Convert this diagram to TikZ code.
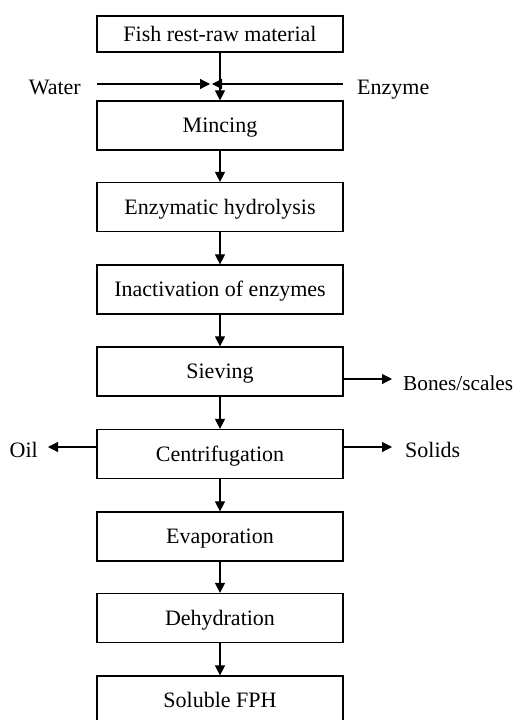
\documentclass[tikz,border=0pt]{standalone}
\usepackage{fontspec}
\setmainfont{Liberation Serif}
\usetikzlibrary{arrows.meta}
\begin{document}
\begin{tikzpicture}[x=1pt,y=-1pt,
  stepbox/.style={draw,line width=1.2pt,minimum width=246pt,minimum height=49pt,inner sep=0pt,
    font=\fontsize{22}{26}\selectfont,text height=14.5pt,text depth=0pt},
  lbl/.style={inner sep=0pt,font=\fontsize{22}{26}\selectfont,text height=14.5pt,text depth=0pt},
  arr/.style={line width=1.1pt,-{Triangle[length=10pt,width=10pt]}},
  ln/.style={line width=1.1pt}]
\useasboundingbox (0,0) rectangle (518,720);
\node[stepbox,minimum height=36pt] (fish) at (220,34) {Fish rest-raw material};
\node[stepbox] (minc) at (220,125.5) {Mincing};
\node[stepbox] (enz) at (220,207) {Enzymatic hydrolysis};
\node[stepbox] (inact) at (220,289.5) {Inactivation of enzymes};
\node[stepbox] (siev) at (220,371.5) {Sieving};
\node[stepbox] (cent) at (220,454) {Centrifugation};
\node[stepbox] (evap) at (220,536.5) {Evaporation};
\node[stepbox] (dehy) at (220,618) {Dehydration};
\node[stepbox] (sol) at (220,700.5) {Soluble FPH};
% side labels
\node[lbl,anchor=east] (water) at (81,87) {Water};
\node[lbl,anchor=west] (enzyme) at (357,87) {Enzyme};
\node[lbl,anchor=west,font=\fontsize{21.3}{25}\selectfont] (bones) at (403,383) {Bones/scales};
\node[lbl,anchor=east] (oil) at (38,450) {Oil};
\node[lbl,anchor=west] (solids) at (405,450) {Solids};
% coordinates
\coordinate (wS) at (97,84);
\coordinate (wT) at (210,84);
\coordinate (eS) at (343,84);
\coordinate (eT) at (212,84);
\coordinate (bT) at (392,379);
\coordinate (oT) at (48,447);
\coordinate (sT) at (392,447);
% main flow
\draw[arr] (fish) -- (minc);
\draw[arr] (minc) -- (enz);
\draw[arr] (enz) -- (inact);
\draw[arr] (inact) -- (siev);
\draw[arr] (siev) -- (cent);
\draw[arr] (cent) -- (evap);
\draw[arr] (evap) -- (dehy);
\draw[arr] (dehy) -- (sol);
% inputs
\draw[arr] (wS) -- (wT);
\draw[arr] (eS) -- (eT);
% outputs
\draw[arr] (siev.east |- bT) -- (bT);
\draw[arr] (cent.west |- oT) -- (oT);
\draw[arr] (cent.east |- sT) -- (sT);
\end{tikzpicture}
\end{document}
